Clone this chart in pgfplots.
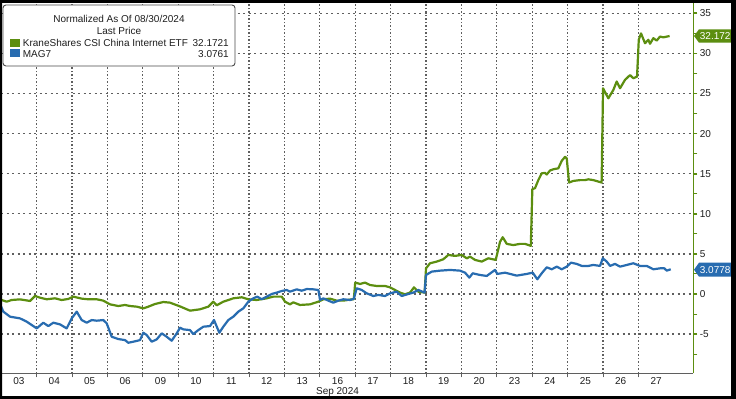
\documentclass[border=0pt]{standalone}
\usepackage{pgfplots}
\pgfplotsset{compat=1.18}
\usepackage{fontspec}
\setmainfont{Liberation Sans}
\definecolor{bgreen}{RGB}{92,142,16}
\definecolor{bblue}{RGB}{40,108,176}
\definecolor{gridc}{RGB}{95,95,95}
\definecolor{txt}{RGB}{30,30,30}
\begin{document}
\begin{tikzpicture}[font=\fontsize{10bp}{12bp}\selectfont]
\useasboundingbox (-1.2bp,-25.7bp) rectangle (734.8bp,373.3bp);
\fill[white] (-1.2bp,-25.7bp) rectangle (734.8bp,373.3bp);
\begin{axis}[
  at={(0,0)}, anchor=south west,
  scale only axis, width=692.1bp, height=371.3bp,
  xmin=0, xmax=19.55, ymin=-9.89, ymax=36.41,
  axis x line*=bottom, axis y line*=right,
  x axis line style={gridc, line width=0.9bp},
  y axis line style={bgreen, line width=1bp},
  xtick={0.5,1.5,...,18.5},
  xticklabels={03,04,05,06,09,10,11,12,13,16,17,18,19,20,23,24,25,26,27},
  minor xtick={1,2,...,18},
  xminorgrids=true, xmajorgrids=false,
  ytick={-5,0,...,35},
  minor ytick={-7.5,-2.5,...,32.5},
  ymajorgrids=true, yminorgrids=false,
  major grid style={draw=gridc, line width=1.4bp, dash pattern=on 2bp off 3.5bp},
  minor grid style={draw=gridc, line width=1.2bp, dash pattern=on 1.6bp off 1.9bp},
  tick align=outside,
  major tick length=4bp, minor tick length=4bp,
  xtick style={draw=none},
  minor x tick style={draw=gridc, line width=1bp},
  ytick style={draw=bgreen, line width=1.8bp},
  minor y tick style={draw=bgreen, line width=0.9bp},
  /pgf/number format/assume math mode=true,
  ticklabel style={font=\fontsize{10bp}{12bp}\selectfont, text=txt},
  xticklabel style={yshift=3bp},
  yticklabel style={xshift=-1bp},
]
\addplot[bgreen, line width=2.2bp, line join=round] coordinates {
(0.014,-0.75)(0.155,-0.96)(0.297,-0.75)(0.531,-0.67)(0.814,-0.87)(0.955,-0.25)(1.096,-0.46)(1.285,-0.66)(1.520,-0.54)(1.709,-0.75)(1.895,-0.62)(2.037,-0.33)(2.274,-0.58)(2.460,-0.66)(2.698,-0.66)(2.884,-0.83)(3.073,-1.29)(3.308,-1.50)(3.497,-1.37)(3.638,-1.50)(3.828,-1.58)(4.014,-1.79)(4.155,-1.58)(4.345,-1.25)(4.579,-1.00)(4.768,-1.08)(5.051,-1.55)(5.333,-2.08)(5.616,-1.91)(5.850,-1.58)(5.992,-0.96)(6.088,-1.41)(6.274,-0.96)(6.556,-0.54)(6.794,-0.41)(6.980,-0.66)(7.218,-0.75)(7.500,-0.54)(7.686,-0.33)(7.924,-0.33)(8.017,-0.96)(8.158,-1.29)(8.251,-1.04)(8.441,-1.37)(8.723,-1.29)(8.958,-0.96)(9.099,-0.66)(9.288,-0.58)(9.477,-0.83)(9.664,-0.83)(9.853,-0.70)(9.960,-0.65)(10.000,1.42)(10.136,1.25)(10.277,1.42)(10.418,1.12)(10.607,1.00)(10.842,1.00)(10.983,0.83)(11.124,0.50)(11.266,0.17)(11.407,-0.04)(11.548,0.17)(11.661,0.83)(11.783,0.29)(11.960,0.17)(12.000,3.20)(12.113,3.83)(12.302,4.04)(12.489,4.33)(12.630,4.87)(12.819,4.75)(13.008,4.87)(13.150,4.45)(13.243,4.66)(13.384,4.25)(13.573,4.04)(13.760,4.45)(13.969,4.25)(14.090,6.50)(14.167,7.08)(14.280,6.25)(14.466,6.10)(14.655,6.25)(14.797,6.25)(14.960,6.00)(15.003,13.07)(15.079,13.20)(15.172,14.20)(15.268,15.05)(15.362,15.10)(15.410,14.90)(15.503,15.40)(15.596,15.55)(15.737,15.67)(15.833,16.60)(15.927,17.10)(15.975,16.90)(16.040,13.90)(16.161,14.10)(16.350,14.20)(16.492,14.20)(16.585,14.30)(16.726,14.20)(16.960,13.90)(17.000,25.65)(17.150,24.40)(17.291,25.44)(17.387,26.50)(17.480,25.65)(17.621,26.70)(17.763,27.30)(17.856,26.90)(17.960,27.10)(18.010,31.70)(18.073,32.50)(18.186,31.27)(18.280,31.70)(18.328,31.20)(18.421,31.90)(18.517,31.60)(18.610,32.10)(18.704,32.00)(18.880,32.17)
};
\addplot[bblue, line width=2.2bp, line join=round] coordinates {
(0.000,-1.58)(0.059,-2.20)(0.249,-2.83)(0.531,-3.04)(0.720,-3.45)(0.862,-3.87)(1.003,-4.29)(1.189,-3.58)(1.331,-4.00)(1.472,-3.58)(1.661,-3.79)(1.850,-4.29)(1.992,-3.04)(2.133,-2.20)(2.274,-3.25)(2.415,-3.58)(2.556,-3.25)(2.698,-3.33)(2.884,-3.25)(2.980,-3.66)(3.121,-5.33)(3.308,-5.62)(3.497,-5.75)(3.590,-6.08)(3.732,-5.95)(3.921,-5.75)(4.014,-4.83)(4.110,-5.12)(4.251,-5.95)(4.393,-5.66)(4.534,-4.91)(4.675,-5.33)(4.816,-5.83)(4.958,-4.91)(5.051,-4.20)(5.144,-4.41)(5.333,-4.50)(5.427,-5.00)(5.568,-4.50)(5.709,-4.08)(5.898,-4.00)(6.011,-3.25)(6.161,-4.83)(6.274,-4.08)(6.415,-3.25)(6.556,-2.83)(6.698,-2.20)(6.839,-1.79)(6.980,-0.96)(7.121,-0.54)(7.234,-0.33)(7.359,-0.66)(7.500,-0.33)(7.641,0.00)(7.782,0.17)(7.924,0.37)(8.065,0.50)(8.158,0.29)(8.347,0.58)(8.489,0.41)(8.630,0.62)(8.816,0.58)(8.960,0.50)(9.006,-0.75)(9.099,-0.54)(9.240,-0.83)(9.381,-1.08)(9.523,-0.83)(9.664,-0.66)(9.853,-0.75)(9.960,-0.60)(10.042,0.71)(10.184,0.50)(10.325,0.08)(10.511,-0.25)(10.653,-0.12)(10.842,-0.25)(10.983,0.08)(11.172,0.29)(11.314,-0.25)(11.500,0.00)(11.641,0.17)(11.782,0.50)(11.960,0.17)(12.000,2.37)(12.161,2.79)(12.395,2.91)(12.678,3.00)(12.961,2.91)(13.102,2.66)(13.223,2.04)(13.319,2.58)(13.525,2.37)(13.715,2.25)(13.949,3.00)(14.014,2.50)(14.231,2.66)(14.562,2.29)(14.845,2.50)(15.014,2.66)(15.144,1.83)(15.268,2.58)(15.410,3.33)(15.551,3.08)(15.692,3.41)(15.833,3.08)(15.975,3.41)(16.096,3.91)(16.257,3.75)(16.398,3.50)(16.585,3.50)(16.726,3.62)(16.915,3.50)(16.992,4.45)(17.104,4.04)(17.198,3.50)(17.339,3.75)(17.480,3.41)(17.669,3.62)(17.856,3.83)(18.045,3.50)(18.234,3.50)(18.421,3.08)(18.610,3.20)(18.732,3.20)(18.799,2.91)(18.912,3.08)
};
\end{axis}
% Sep 2024
\node[text=txt, anchor=base] at (336.3bp,-21.4bp) {Sep 2024};
% value tags
\fill[bgreen] (692.8bp,337.3bp) -- (697.8bp,344.0bp) -- (734.8bp,344.0bp) -- (734.8bp,330.6bp) -- (697.8bp,330.6bp) -- cycle;
\node[text=white, anchor=base west, inner sep=0pt] at (698.5bp,333.6bp) {32.1721};
\fill[bblue] (692.8bp,103.6bp) -- (697.8bp,110.6bp) -- (734.8bp,110.6bp) -- (734.8bp,96.6bp) -- (697.8bp,96.6bp) -- cycle;
\node[text=white, anchor=base west, inner sep=0pt] at (698.5bp,99.9bp) {3.0778};
% legend box
\draw[fill=white, draw=black!70, line width=0.9bp, rounded corners=3bp] (1.8bp,368.3bp) rectangle (233.8bp,307.3bp);
\node[text=txt, anchor=base, inner sep=0pt] at (117.8bp,350.6bp) {Normalized As Of 08/30/2024};
\node[text=txt, anchor=base, inner sep=0pt] at (117.8bp,338.6bp) {Last Price};
\fill[bgreen] (8.8bp,334.3bp) rectangle (18.8bp,326.3bp);
\fill[bblue] (8.8bp,323.8bp) rectangle (18.8bp,315.8bp);
\node[text=txt, anchor=base west, inner sep=0pt] at (21.5bp,326.6bp) {KraneShares CSI China Internet ETF};
\node[text=txt, anchor=base east, inner sep=0pt] at (227.8bp,326.6bp) {32.1721};
\node[text=txt, anchor=base west, inner sep=0pt] at (21.5bp,316.1bp) {MAG7};
\node[text=txt, anchor=base east, inner sep=0pt] at (227.8bp,316.1bp) {3.0761};
% black frame
\fill[black, even odd rule] (-1.2bp,-25.7bp) rectangle (734.8bp,373.3bp) (0.8bp,-22.7bp) rectangle (729.8bp,370.3bp);
\end{tikzpicture}
\end{document}
